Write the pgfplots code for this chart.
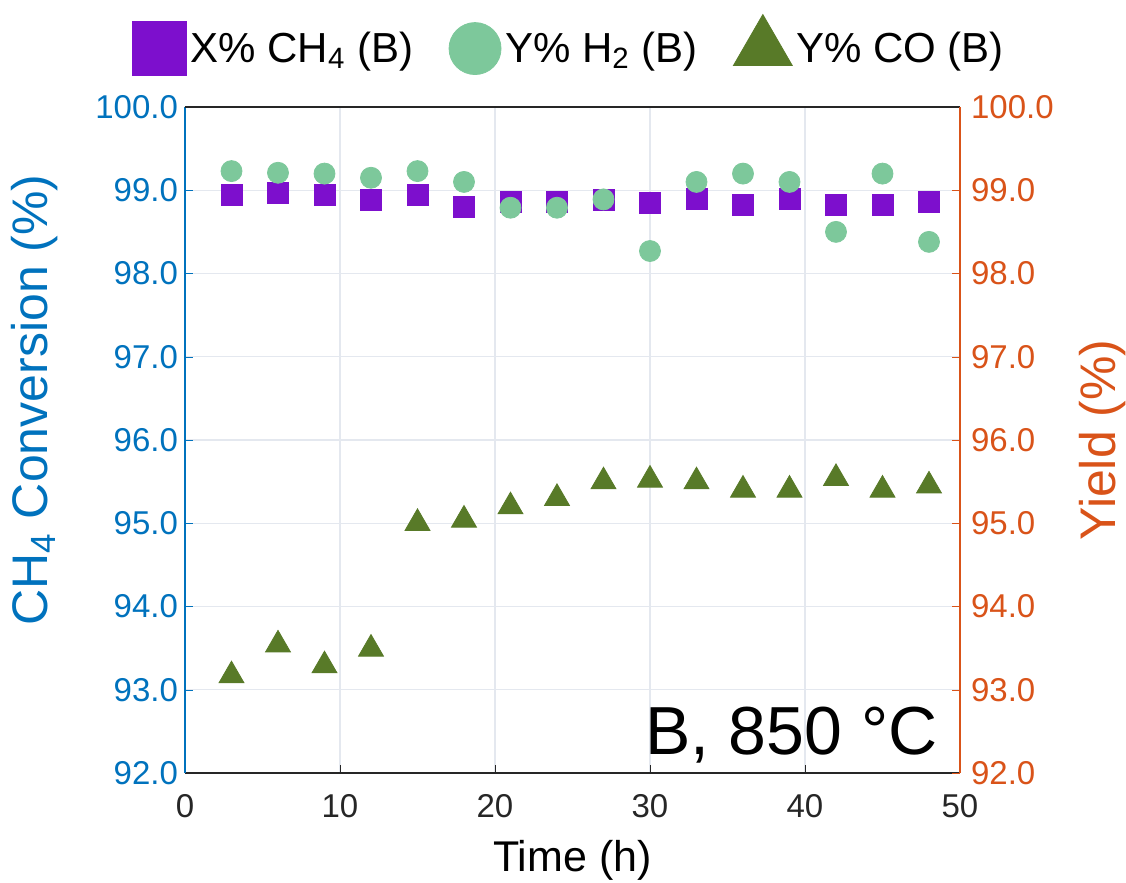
\documentclass[border=0pt]{standalone}
\usepackage{fontspec}
\setmainfont{Liberation Sans}
\usepackage{pgfplots}
\usepackage{pgfplotstable}
\pgfplotsset{compat=1.18}

\definecolor{lblue}{RGB}{0,114,189}
\definecolor{rorange}{RGB}{217,83,25}
\definecolor{sqpurple}{RGB}{125,15,205}
\definecolor{circgreen}{RGB}{125,200,155}
\definecolor{trigreen}{RGB}{88,122,40}
\definecolor{gridc}{RGB}{228,232,239}
\definecolor{boxc}{RGB}{38,38,38}

% time (h), X% CH4, Y% H2, Y% CO
\pgfplotstableread{
t  xch4   yh2    yco
3  98.95  99.23  93.17
6  98.97  99.21  93.54
9  98.95  99.20  93.29
12 98.89  99.15  93.49
15 98.95  99.23  95.00
18 98.80  99.10  95.04
21 98.86  98.79  95.20
24 98.86  98.79  95.30
27 98.89  98.89  95.50
30 98.85  98.27  95.52
33 98.90  99.10  95.50
36 98.82  99.20  95.40
39 98.90  99.10  95.40
42 98.83  98.50  95.54
45 98.83  99.20  95.40
48 98.86  98.38  95.45
}\datatable

\pgfplotsset{
  base/.style={
    width=387.5pt, height=333pt, scale only axis,
    xmin=0, xmax=50, ymin=92, ymax=100,
    xtick={0,10,...,50}, ytick={92,93,...,100},
    tick align=inside, major tick length=4pt,
    /pgf/number format/assume math mode=true,
    ticklabel style={font=\fontsize{16.5}{20}\selectfont},
    yticklabel style={/pgf/number format/fixed,
      /pgf/number format/fixed zerofill, /pgf/number format/precision=1},
    every axis y label/.style={rotate=90, anchor=center,
      font=\fontsize{25}{30}\selectfont},
    every axis x label/.style={at={(axis description cs:0.5,-0.1306)}, anchor=center,
      font=\fontsize{21.5}{26}\selectfont},
  }
}

\begin{document}
\begin{tikzpicture}
\useasboundingbox (-92.5pt,-55pt) rectangle (470.5pt,386.5pt);

\begin{axis}[base,
  axis y line*=left, axis x line*=bottom,
  x axis line style={boxc, line width=0.7pt},
  y axis line style={lblue, line width=0.7pt},
  xmajorgrids, ymajorgrids, grid style={gridc, line width=0.6pt},
  x tick style={boxc}, y tick style={lblue},
  xticklabel style={boxc, yshift=-7pt},
  yticklabel style={lblue},
  xlabel={Time (h)},
  ylabel={CH\textsubscript{4} Conversion (\%)},
  ylabel style={at={(axis description cs:-0.1935,0.56)}, lblue},
]
\addplot[only marks, mark=square*, mark size=5.25pt, color=sqpurple]
  table[x=t, y=xch4] {\datatable};
\end{axis}

\begin{axis}[base,
  axis y line*=right, axis x line*=top,
  xtick=\empty,
  x axis line style={boxc, line width=0.7pt},
  y axis line style={rorange, line width=0.7pt},
  y tick style={rorange},
  yticklabel style={rorange, xshift=2pt},
  ylabel={Yield (\%)},
  ylabel style={at={(axis description cs:1.1845,0.5)}, rorange},
  legend columns=3,
  legend image code/.code={\draw[#1] plot coordinates {(0pt,0pt)};},
  legend style={at={(0.497,1.093)}, anchor=center, draw=none, fill=none,
    font=\fontsize{21}{25}\selectfont,
    /tikz/every even column/.append style={column sep=16pt}},
]
\addlegendimage{only marks, mark=square*, mark size=13.5pt, color=sqpurple}
\addlegendentry{X\% CH\textsubscript{4} (B)}
\addlegendimage{only marks, mark=*, mark size=13pt, color=circgreen}
\addlegendentry{Y\% H\textsubscript{2} (B)}
\addlegendimage{only marks, mark=triangle*, mark size=17pt, color=trigreen}
\addlegendentry{Y\% CO (B)}

\addplot[only marks, mark=*, mark size=5.25pt, color=circgreen, forget plot]
  table[x=t, y=yh2] {\datatable};
\addplot[only marks, mark=triangle*, mark size=7.2pt, color=trigreen, forget plot]
  table[x=t, y=yco] {\datatable};

\node[anchor=base east, font=\fontsize{34}{40}\selectfont] at (axis cs:49.0,92.22) {B, 850 °C};
\end{axis}
\end{tikzpicture}
\end{document}
